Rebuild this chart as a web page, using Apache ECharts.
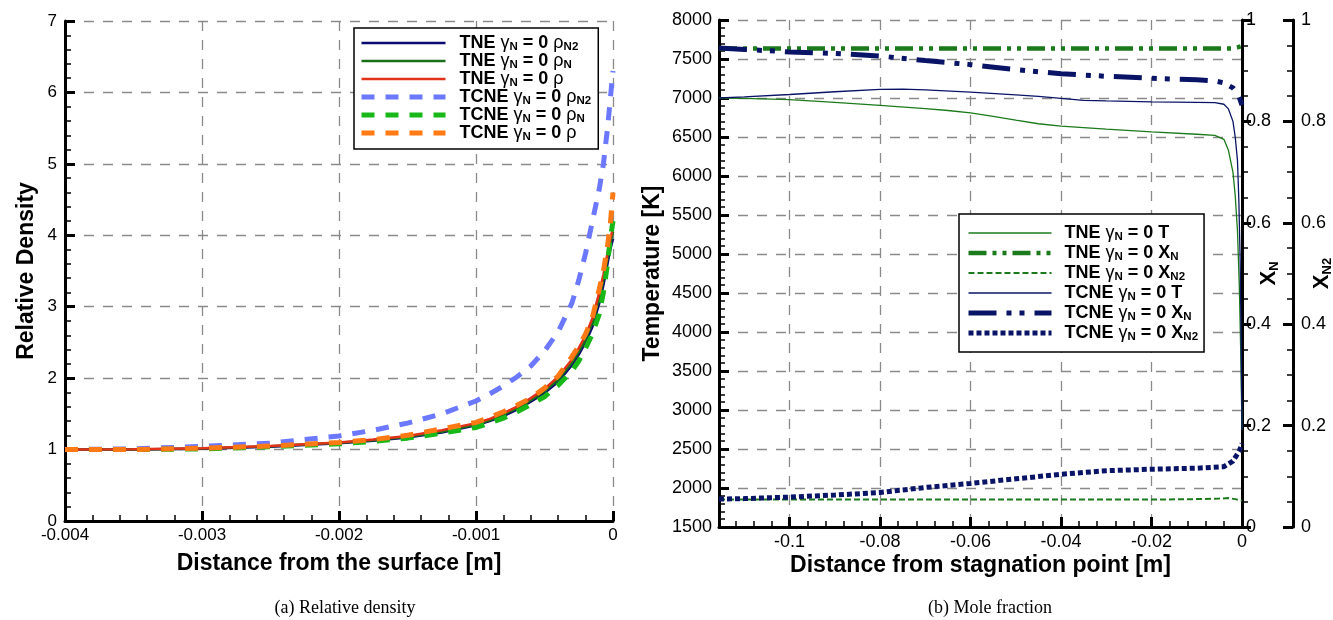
<!DOCTYPE html>
<html>
<head>
<meta charset="utf-8">
<script src="https://cdn.jsdelivr.net/npm/echarts@6/dist/echarts.min.js"></script>
<style>html,body{margin:0;padding:0;background:#fff}#c{width:1333px;height:620px}</style>
</head>
<body>
<div id="c"></div>
<script>
// ---------- (a) Relative density ----------
const rdX = [-0.004, -0.0035, -0.003, -0.0025, -0.002, -0.00175, -0.0015, -0.00125, -0.001, -0.0009, -0.0008, -0.0007, -0.0006, -0.0005, -0.0004, -0.0003, -0.00025, -0.0002, -0.00015, -0.0001, -0.00007, -0.00004, -0.00002, 0];
const tneRhoN2  = [1.0, 1.0, 1.01, 1.04, 1.09, 1.125, 1.17, 1.24, 1.34, 1.4, 1.47, 1.56, 1.67, 1.79, 1.95, 2.18, 2.33, 2.5, 2.72, 3.05, 3.3, 3.6, 3.8, 3.95];
const tneRhoN   = [1.0, 1.0, 1.015, 1.045, 1.095, 1.13, 1.18, 1.25, 1.35, 1.41, 1.49, 1.58, 1.69, 1.82, 1.98, 2.22, 2.37, 2.55, 2.78, 3.12, 3.38, 3.68, 3.88, 4.05];
const tneRho    = [1.0, 1.005, 1.02, 1.05, 1.1, 1.14, 1.19, 1.27, 1.37, 1.43, 1.51, 1.6, 1.72, 1.85, 2.02, 2.26, 2.42, 2.6, 2.84, 3.2, 3.45, 3.75, 3.95, 4.1];
const tcneRhoN2 = [1.0, 1.01, 1.045, 1.09, 1.19, 1.27, 1.37, 1.5, 1.68, 1.78, 1.89, 2.02, 2.17, 2.38, 2.65, 3.05, 3.37, 3.75, 4.2, 4.65, 5.0, 5.5, 5.9, 6.3];
const tcneRhoN  = [1.0, 1.0, 1.01, 1.04, 1.08, 1.115, 1.16, 1.23, 1.31, 1.37, 1.44, 1.53, 1.63, 1.74, 1.9, 2.1, 2.24, 2.42, 2.62, 2.9, 3.2, 3.6, 3.95, 4.2];
const tcneRho   = [1.0, 1.0, 1.02, 1.05, 1.1, 1.14, 1.2, 1.29, 1.38, 1.45, 1.53, 1.62, 1.72, 1.86, 2.03, 2.3, 2.45, 2.62, 2.85, 3.25, 3.5, 3.85, 4.15, 4.6];

// ---------- (b) Mole fraction ----------
const tneTX  = [-0.1156, -0.11, -0.1, -0.09, -0.08, -0.07, -0.065, -0.06, -0.055, -0.05, -0.045, -0.04, -0.035, -0.03, -0.02, -0.01, -0.006, -0.004, -0.003, -0.002, -0.0015, -0.001, -0.0006, -0.0003, 0];
const tneT   = [7000, 6995, 6980, 6945, 6905, 6865, 6840, 6810, 6765, 6715, 6670, 6640, 6620, 6600, 6565, 6535, 6520, 6470, 6330, 6050, 5750, 5300, 4600, 3800, 2750];
const tcneTX = [-0.1156, -0.11, -0.1, -0.09, -0.08, -0.075, -0.07, -0.06, -0.05, -0.045, -0.04, -0.035, -0.03, -0.02, -0.01, -0.006, -0.004, -0.003, -0.002, -0.0015, -0.001, -0.0007, -0.0004, -0.0002, 0];
const tcneT  = [7000, 7015, 7045, 7080, 7110, 7115, 7105, 7075, 7040, 7020, 6995, 6970, 6962, 6950, 6945, 6940, 6920, 6860, 6700, 6500, 6200, 5700, 4900, 3900, 2750];
const tneXNX  = [-0.1156, -0.1, -0.08, -0.06, -0.04, -0.02, -0.005, -0.002, -0.001, 0];
const tneXN   = [0.944, 0.944, 0.944, 0.944, 0.944, 0.944, 0.944, 0.944, 0.946, 0.949];
const tcneXNX = [-0.1156, -0.11, -0.1, -0.09, -0.08, -0.07, -0.06, -0.05, -0.04, -0.03, -0.02, -0.01, -0.006, -0.004, -0.002, -0.001, -0.0005, 0];
const tcneXN  = [0.945, 0.942, 0.937, 0.934, 0.929, 0.92, 0.912, 0.902, 0.894, 0.889, 0.885, 0.882, 0.88, 0.876, 0.866, 0.855, 0.845, 0.832];
const tneXN2X  = [-0.1156, -0.1, -0.08, -0.06, -0.04, -0.02, -0.01, -0.005, -0.003, -0.0015, 0];
const tneXN2   = [0.054, 0.054, 0.054, 0.054, 0.054, 0.054, 0.055, 0.056, 0.057, 0.055, 0.052];
const tcneXN2X = [-0.1156, -0.11, -0.1, -0.09, -0.08, -0.07, -0.06, -0.05, -0.04, -0.03, -0.02, -0.01, -0.004, -0.002, -0.001, -0.0005, 0];
const tcneXN2  = [0.055, 0.056, 0.059, 0.063, 0.068, 0.078, 0.086, 0.095, 0.104, 0.111, 0.114, 0.116, 0.119, 0.13, 0.144, 0.152, 0.165];

const xTicksA = ['-0.004', '-0.003', '-0.002', '-0.001', '0'];
const captions = ['(a) Relative density', '(b) Mole fraction'];
// minor tick positions of the right-hand distance axis (every 0.004 m)
const minorTicksB = Array.from({ length: 29 }, (_, i) => Math.round((-0.112 + 0.004 * i) * 1e6) / 1e6);

const FONT = 'Liberation Sans';
const pairs = (xs, ys) => xs.map((x, i) => [x, ys[i]]);

const NAVY = '#0a1466', DGREEN = '#1b7a1b';

function ax(o) {
  const base = {
    axisLine: { onZero: false, lineStyle: { color: '#000', width: 3 } },
    axisTick: { show: true, inside: true, length: 10, lineStyle: { color: '#000', width: 3 } },
    minorTick: { show: false },
    axisLabel: { color: '#000', fontSize: 17, fontFamily: FONT, formatter: v => String(v) },
    splitLine: { show: true, lineStyle: { color: '#8a8a8a', width: 1.3, type: [10, 9] } },
    nameLocation: 'middle', nameMoveOverlap: false,
    nameTextStyle: { color: '#000', fontSize: 23, fontWeight: 'bold', fontFamily: FONT }
  };
  return echarts.util.merge(base, o, true);
}
// tick-only overlay axis that draws the minor ticks
function minorAx(o) {
  const base = {
    type: 'value',
    axisLine: { show: true, onZero: false, lineStyle: { color: 'rgba(0,0,0,0)', width: 0 } },
    axisTick: { show: true, inside: true, length: 6, lineStyle: { color: '#000', width: 1.5 } },
    axisLabel: { show: false },
    splitLine: { show: false },
    minorTick: { show: false }
  };
  return echarts.util.merge(base, o, true);
}

const legRich = {
  b: { fontSize: 18, fontWeight: 'bold', fontFamily: FONT, color: '#000', lineHeight: 20 },
  g: { fontSize: 18, fontFamily: FONT, color: '#000', lineHeight: 20 },
  s: { fontSize: 11.5, fontWeight: 'bold', fontFamily: FONT, color: '#000', verticalAlign: 'bottom' }
};
const legendLabels = {
  'TNE γN = 0 ρN2': '{b|TNE }{g|γ}{s|N}{b| = 0 }{g|ρ}{s|N2}',
  'TNE γN = 0 ρN': '{b|TNE }{g|γ}{s|N}{b| = 0 }{g|ρ}{s|N}',
  'TNE γN = 0 ρ': '{b|TNE }{g|γ}{s|N}{b| = 0 }{g|ρ}',
  'TCNE γN = 0 ρN2': '{b|TCNE }{g|γ}{s|N}{b| = 0 }{g|ρ}{s|N2}',
  'TCNE γN = 0 ρN': '{b|TCNE }{g|γ}{s|N}{b| = 0 }{g|ρ}{s|N}',
  'TCNE γN = 0 ρ': '{b|TCNE }{g|γ}{s|N}{b| = 0 }{g|ρ}',
  'TNE γN = 0 T': '{b|TNE }{g|γ}{s|N}{b| = 0 T}',
  'TNE γN = 0 XN': '{b|TNE }{g|γ}{s|N}{b| = 0 X}{s|N}',
  'TNE γN = 0 XN2': '{b|TNE }{g|γ}{s|N}{b| = 0 X}{s|N2}',
  'TCNE γN = 0 T': '{b|TCNE }{g|γ}{s|N}{b| = 0 T}',
  'TCNE γN = 0 XN': '{b|TCNE }{g|γ}{s|N}{b| = 0 X}{s|N}',
  'TCNE γN = 0 XN2': '{b|TCNE }{g|γ}{s|N}{b| = 0 X}{s|N2}'
};

function line(name, xi, yi, data, color, width, type) {
  return {
    name, type: 'line', xAxisIndex: xi, yAxisIndex: yi, data,
    showSymbol: false, symbol: 'none', smooth: false,
    lineStyle: { color, width, type: type || 'solid', cap: 'butt' },
    itemStyle: { color },
    emphasis: { disabled: true }
  };
}

const xNameRich = {
  x: { fontSize: 22, fontWeight: 'bold', fontFamily: FONT, color: '#000', lineHeight: 24 },
  s: { fontSize: 13, fontWeight: 'bold', fontFamily: FONT, color: '#000', verticalAlign: 'bottom' }
};

const option = {
  animation: false,
  backgroundColor: '#fff',
  title: [
    { text: captions[0], left: 340, top: 594, textAlign: 'center', textStyle: { fontFamily: 'Liberation Serif', fontWeight: 'normal', fontSize: 18, color: '#000' } },
    { text: captions[1], left: 985, top: 594, textAlign: 'center', textStyle: { fontFamily: 'Liberation Serif', fontWeight: 'normal', fontSize: 18, color: '#000' } }
  ],
  grid: [
    { left: 65, top: 21, width: 548, height: 500, outerBoundsMode: 'none', containLabel: false },
    { left: 719, top: 20, width: 523, height: 507, outerBoundsMode: 'none', containLabel: false }
  ],
  legend: [
    {
      orient: 'vertical', left: 354, top: 28, padding: [6, 7, 6, 5], itemWidth: 84, itemHeight: 12, itemGap: -1,
      backgroundColor: '#fff', borderColor: '#000', borderWidth: 1.5, borderRadius: 0,
      itemStyle: { opacity: 0 }, lineStyle: { width: 'inherit' },
      data: ['TNE γN = 0 ρN2', 'TNE γN = 0 ρN', 'TNE γN = 0 ρ', 'TCNE γN = 0 ρN2', 'TCNE γN = 0 ρN', 'TCNE γN = 0 ρ'],
      formatter: n => legendLabels[n],
      textStyle: { padding: [0, 0, 0, 9], rich: legRich }
    },
    {
      orient: 'vertical', left: 959, top: 214, padding: [10, 6, 9, 7], itemWidth: 83, itemHeight: 12, itemGap: 1,
      backgroundColor: '#fff', borderColor: '#000', borderWidth: 1.5, borderRadius: 0,
      itemStyle: { opacity: 0 }, lineStyle: { width: 'inherit' },
      data: ['TNE γN = 0 T', 'TNE γN = 0 XN', 'TNE γN = 0 XN2', 'TCNE γN = 0 T', 'TCNE γN = 0 XN', 'TCNE γN = 0 XN2'],
      formatter: n => legendLabels[n],
      textStyle: { padding: [0, 0, 0, 8], rich: legRich }
    }
  ],
  xAxis: [
    ax({ type: 'value', gridIndex: 0, position: 'bottom', min: -0.004, max: 0, interval: 0.001,
         axisLabel: { margin: 6, formatter: v => xTicksA[Math.round((v + 0.004) / 0.001)] },
         name: 'Distance from the surface [m]', nameGap: 31 }),
    ax({ type: 'value', gridIndex: 1, position: 'bottom', min: -0.1156, max: 0, splitNumber: 5,
         axisLabel: { margin: 6, fontSize: 18, showMinLabel: false },
         name: 'Distance from stagnation point [m]', nameGap: 27 }),
    minorAx({ gridIndex: 0, position: 'bottom', min: -0.004, max: 0, interval: 0.0002 }),
    minorAx({ gridIndex: 1, position: 'bottom', min: -0.1156, max: 0, axisTick: { customValues: minorTicksB } })
  ],
  yAxis: [
    ax({ type: 'value', gridIndex: 0, position: 'left', min: 0, max: 7, interval: 1,
         axisLabel: { margin: 8 }, name: 'Relative Density', nameGap: 27 }),
    ax({ type: 'value', gridIndex: 1, position: 'left', min: 1500, max: 8000, interval: 500,
         axisLabel: { margin: 7, fontSize: 18 }, name: 'Temperature [K]', nameGap: 55 }),
    ax({ type: 'value', gridIndex: 1, position: 'right', min: 0, max: 1, interval: 0.2,
         axisTick: { inside: false, length: 9 },
         splitLine: { show: false }, axisLabel: { margin: 4, fontSize: 18 },
         name: '{x|X}{s|N}', nameGap: 15,
         nameTextStyle: { rich: xNameRich } }),
    ax({ type: 'value', gridIndex: 1, position: 'right', offset: 51, min: 0, max: 1, interval: 0.2,
         axisTick: { inside: true, length: 10 },
         splitLine: { show: false }, axisLabel: { margin: 8, fontSize: 18 },
         name: '{x|X}{s|N2}', nameGap: 17,
         nameTextStyle: { rich: xNameRich } }),
    minorAx({ gridIndex: 0, position: 'left', min: 0, max: 7, interval: 0.2 }),
    minorAx({ gridIndex: 1, position: 'left', min: 1500, max: 8000, interval: 100 }),
    minorAx({ gridIndex: 1, position: 'right', min: 0, max: 1, interval: 0.05, axisTick: { inside: false } }),
    minorAx({ gridIndex: 1, position: 'right', offset: 51, min: 0, max: 1, interval: 0.05 })
  ],
  series: [
    line('TNE γN = 0 ρN2', 0, 0, pairs(rdX, tneRhoN2), '#0a0a70', 2.5),
    line('TNE γN = 0 ρN', 0, 0, pairs(rdX, tneRhoN), '#1a701a', 2.5),
    line('TNE γN = 0 ρ', 0, 0, pairs(rdX, tneRho), '#e2321a', 2.5),
    line('TCNE γN = 0 ρN2', 0, 0, pairs(rdX, tcneRhoN2), '#6b78ff', 5, [13, 11]),
    line('TCNE γN = 0 ρN', 0, 0, pairs(rdX, tcneRhoN), '#17b817', 5, [13, 11]),
    line('TCNE γN = 0 ρ', 0, 0, pairs(rdX, tcneRho), '#ff7a14', 5, [13, 11]),

    line('TNE γN = 0 T', 1, 1, pairs(tneTX, tneT), DGREEN, 1.3, 'solid'),
    line('TNE γN = 0 XN', 1, 2, pairs(tneXNX, tneXN), DGREEN, 4.5, [18, 6, 4, 6, 4, 6]),
    line('TNE γN = 0 XN2', 1, 3, pairs(tneXN2X, tneXN2), DGREEN, 2, [6, 3]),
    line('TCNE γN = 0 T', 1, 1, pairs(tcneTX, tcneT), NAVY, 1.3, 'solid'),
    line('TCNE γN = 0 XN', 1, 2, pairs(tcneXNX, tcneXN), NAVY, 5, [28, 10, 5, 8, 5, 10]),
    line('TCNE γN = 0 XN2', 1, 3, pairs(tcneXN2X, tcneXN2), NAVY, 5, [5, 3])
  ]
};

const chart = echarts.init(document.getElementById('c'), null, { renderer: 'canvas' });
chart.setOption(option);
</script>
</body>
</html>
